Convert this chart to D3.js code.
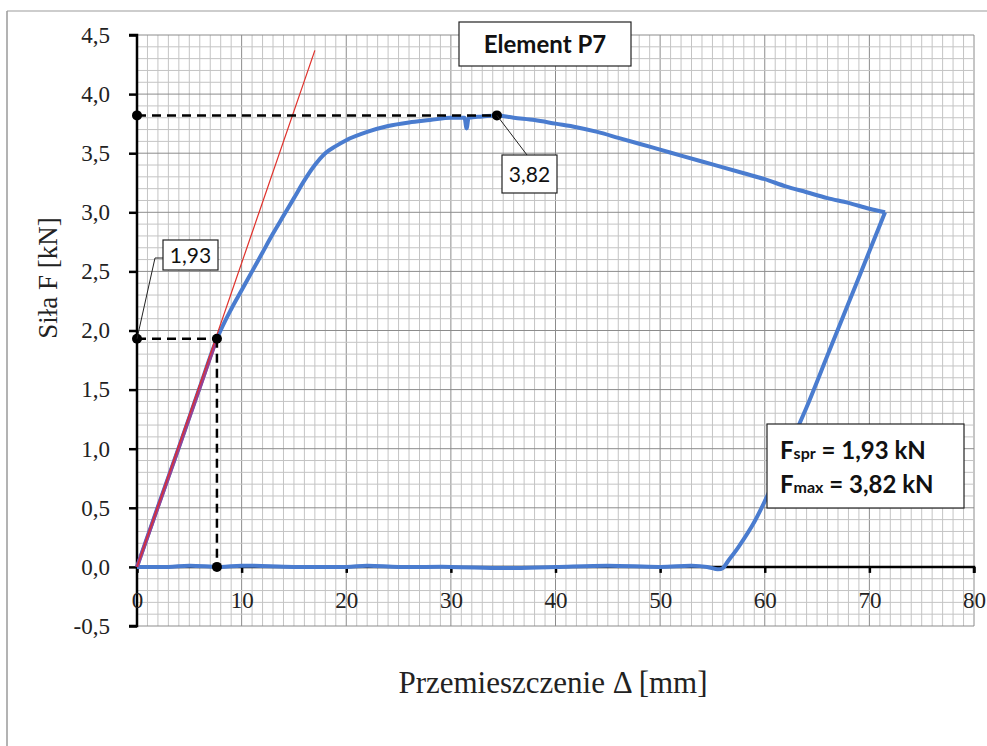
<!DOCTYPE html>
<html>
<head>
<meta charset="utf-8">
<script src="https://d3js.org/d3.v7.min.js"></script>
<style>
  body { margin: 0; background: #fff; }
  svg { display: block; }
</style>
</head>
<body>
<div id="chart"></div>
<script>
// displacement [mm] and force [kN] (loading, unloading, return)
var dispX = [0, 2, 4, 6, 7.64, 9, 10, 11, 12, 13, 14, 15, 16, 17, 18, 19, 20, 22, 24, 26, 28, 30, 31.3, 31.5, 31.7, 33, 34.4,
  36, 38, 40, 42, 44, 46, 48, 50, 52, 54, 56, 58, 60, 62, 64, 66, 68, 70, 71.5,
  70, 68, 66, 64, 62, 60.5, 59, 57.5, 56.5, 56, 55.5, 54.5, 53, 50, 45, 40, 35, 30, 25, 22, 20, 15, 10, 8, 5, 3, 0];
var forceY = [0, 0.51, 1.01, 1.52, 1.93, 2.18, 2.34, 2.5, 2.66, 2.82, 2.97, 3.12, 3.27, 3.4, 3.5, 3.56, 3.61, 3.68, 3.73, 3.76, 3.78, 3.8, 3.8, 3.71, 3.8, 3.81, 3.82,
  3.8, 3.78, 3.75, 3.72, 3.68, 3.63, 3.58, 3.53, 3.48, 3.43, 3.38, 3.33, 3.28, 3.22, 3.17, 3.12, 3.08, 3.03, 3.0,
  2.67, 2.23, 1.79, 1.35, 0.95, 0.65, 0.38, 0.17, 0.05, -0.01, -0.02, 0.0, 0.01, 0.0, 0.01, 0.0, -0.01, 0.0, 0.0, 0.01, 0.0, 0.0, 0.01, 0.0, 0.01, 0.0, 0];

var tangentX = [0, 17.0];
var tangentY = [0, 4.37];

var fSpr = [7.64, 1.93];
var fMax = [34.4, 3.82];

var xTicks = [0, 10, 20, 30, 40, 50, 60, 70, 80];
var yTicks = [-0.5, 0, 0.5, 1.0, 1.5, 2.0, 2.5, 3.0, 3.5, 4.0, 4.5];

var W = 987, H = 746;
var serif = "'Liberation Serif', 'Times New Roman', serif";
var bodyFont = "Lato, 'Open Sans', sans-serif";

var svg = d3.select("#chart").append("svg").attr("width", W).attr("height", H);

// frame
svg.append("line").attr("x1", 7).attr("y1", 11).attr("x2", W).attr("y2", 11).attr("stroke", "#bdbdbd").attr("stroke-width", 1.5);
svg.append("line").attr("x1", 7).attr("y1", 11).attr("x2", 7).attr("y2", H).attr("stroke", "#9a9a9a").attr("stroke-width", 1.5);

var x = d3.scaleLinear().domain([0, 80]).range([137, 974]);
var y = d3.scaleLinear().domain([-0.5, 4.5]).range([626, 35]);

// grid
var grid = svg.append("g");
d3.range(0, 81).forEach(function (v) {
  grid.append("line").attr("x1", x(v)).attr("x2", x(v)).attr("y1", y(4.5)).attr("y2", y(-0.5))
    .attr("stroke", v % 10 === 0 ? "#8c8c8c" : "#c4c4c4").attr("stroke-width", 1);
});
d3.range(-5, 46).forEach(function (k) {
  grid.append("line").attr("x1", x(0)).attr("x2", x(80)).attr("y1", y(k / 10)).attr("y2", y(k / 10))
    .attr("stroke", k % 5 === 0 ? "#8c8c8c" : "#c4c4c4").attr("stroke-width", 1);
});

var comma = function (d) { return d3.format(".1f")(d).replace(".", ",").replace("\u2212", "-"); };

// axes
var yAxis = svg.append("g").attr("transform", "translate(" + x(0) + ",0)")
  .call(d3.axisLeft(y).tickValues(yTicks).tickSize(8).tickPadding(19).tickFormat(comma));
var xAxis = svg.append("g").attr("transform", "translate(0," + y(0) + ")")
  .call(d3.axisBottom(x).tickValues(xTicks).tickSize(6).tickPadding(19).tickFormat(d3.format("d")));
[yAxis, xAxis].forEach(function (a) {
  a.attr("font-family", serif);
  a.select(".domain").attr("stroke", "#000").attr("stroke-width", 2.5);
  a.selectAll(".tick line").attr("stroke", "#000").attr("stroke-width", 2.5);
  a.selectAll(".tick text").style("font-family", serif).attr("font-size", 23).attr("fill", "#222");
});
yAxis.select(".domain").attr("d", "M-8," + y(4.5) + "H0V" + y(-0.5) + "H-8");
xAxis.select(".domain").attr("d", "M" + x(0) + ",0H" + x(80) + "V6");

// curve
var pts = dispX.map(function (d, i) { return [d, forceY[i]]; });
var line = d3.line().x(function (d) { return x(d[0]); }).y(function (d) { return y(d[1]); }).curve(d3.curveMonotoneX);
svg.append("path").datum(pts.slice(0, 46)).attr("d", line)
  .attr("fill", "none").attr("stroke", "#4a7ccf").attr("stroke-width", 4).attr("stroke-linejoin", "round");
var line2 = d3.line().x(function (d) { return x(d[0]); }).y(function (d) { return y(d[1]); }).curve(d3.curveCatmullRom);
svg.append("path").datum(pts.slice(45)).attr("d", line2)
  .attr("fill", "none").attr("stroke", "#4a7ccf").attr("stroke-width", 4).attr("stroke-linejoin", "round");

// tangent line (purple where it overlaps the curve)
svg.append("line").attr("x1", x(tangentX[0])).attr("y1", y(tangentY[0])).attr("x2", x(fSpr[0])).attr("y2", y(fSpr[1]))
  .attr("stroke", "#9b3f8f").attr("stroke-width", 3.5);
svg.append("line").attr("x1", x(tangentX[0])).attr("y1", y(tangentY[0])).attr("x2", x(tangentX[1])).attr("y2", y(tangentY[1]))
  .attr("stroke", "#e0302a").attr("stroke-width", 1.2);

// dashed guides
var dash = svg.append("g").attr("stroke", "#000").attr("stroke-width", 2.5).attr("stroke-dasharray", "9,6").attr("fill", "none");
dash.append("line").attr("x1", x(0)).attr("y1", y(fMax[1])).attr("x2", x(fMax[0])).attr("y2", y(fMax[1]));
dash.append("line").attr("x1", x(0)).attr("y1", y(fSpr[1])).attr("x2", x(fSpr[0])).attr("y2", y(fSpr[1]));
dash.append("line").attr("x1", x(fSpr[0])).attr("y1", y(fSpr[1])).attr("x2", x(fSpr[0])).attr("y2", y(0));

var dots = [[0, fMax[1]], fMax, [0, fSpr[1]], fSpr, [fSpr[0], 0]];
svg.selectAll("circle.dot").data(dots).enter().append("circle").attr("class", "dot")
  .attr("cx", function (d) { return x(d[0]); }).attr("cy", function (d) { return y(d[1]); })
  .attr("r", 5).attr("fill", "#000");

// callouts
function callout(path, bx, by, bw, bh, txt, size, weight) {
  svg.append("path").attr("d", path).attr("fill", "none").attr("stroke", "#222").attr("stroke-width", 1);
  svg.append("rect").attr("x", bx).attr("y", by).attr("width", bw).attr("height", bh)
    .attr("fill", "#fff").attr("stroke", "#222").attr("stroke-width", 1.2);
  svg.append("text").attr("x", bx + bw / 2).attr("y", by + bh / 2 + size * 0.36).attr("text-anchor", "middle")
    .attr("font-family", bodyFont).attr("font-size", size).attr("font-weight", weight).attr("fill", "#111").text(txt);
}
callout("M" + x(fMax[0]) + "," + y(fMax[1]) + "L527,155", 502, 155, 55, 38, "3,82", 21, "normal");
callout("M" + x(0) + "," + y(fSpr[1]) + "L155,258L163,258", 163, 240, 55, 30, "1,93", 21, "normal");
callout("", 459, 22, 172, 44, "Element P7", 24, "bold");

// legend box
svg.append("rect").attr("x", 767).attr("y", 424).attr("width", 197).attr("height", 84)
  .attr("fill", "#fff").attr("stroke", "#222").attr("stroke-width", 1.2);
var leg = [["spr", "1,93"], ["max", "3,82"]];
leg.forEach(function (d, i) {
  var t = svg.append("text").attr("x", 780).attr("y", 459 + i * 34)
    .attr("font-family", bodyFont).attr("font-weight", "bold").attr("font-size", 24).attr("fill", "#111");
  t.append("tspan").text("F");
  t.append("tspan").attr("font-size", 16).text(d[0]);
  t.append("tspan").text(" = " + d[1] + " kN");
});

// axis titles
svg.append("text").attr("x", 553).attr("y", 693).attr("text-anchor", "middle")
  .style("font-family", serif).attr("font-size", 31).attr("fill", "#222")
  .text("Przemieszczenie Δ [mm]");
svg.append("text").attr("transform", "translate(57,278) rotate(-90)").attr("text-anchor", "middle")
  .style("font-family", serif).attr("font-size", 27).attr("fill", "#222")
  .text("Siła F [kN]");
</script>
</body>
</html>
